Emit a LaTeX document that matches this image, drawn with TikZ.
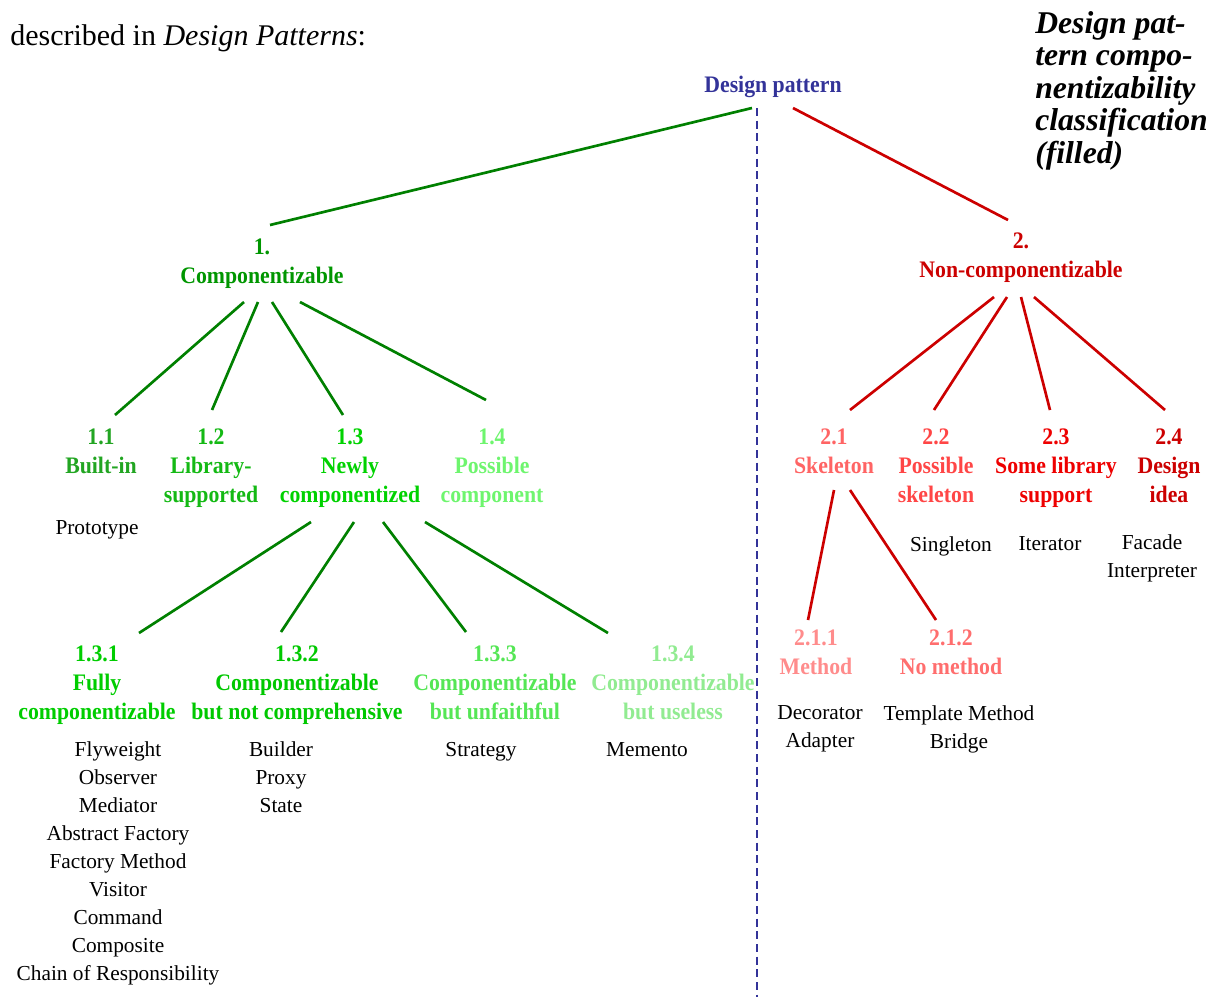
\documentclass[tikz,border=0pt]{standalone}
\usepackage{fontspec}
\setmainfont{Liberation Serif}
\newfontfamily\labfont{Liberation Serif}[FakeStretch=0.92]
\definecolor{glinec}{RGB}{0,128,0}
\definecolor{rlinec}{RGB}{204,0,0}
\definecolor{blueT}{RGB}{51,51,153}
\definecolor{cA}{RGB}{0,150,0}
\definecolor{cAa}{RGB}{34,165,34}
\definecolor{cAb}{RGB}{20,185,20}
\definecolor{cAc}{RGB}{0,210,0}
\definecolor{cAd}{RGB}{110,245,110}
\definecolor{cAca}{RGB}{0,205,0}
\definecolor{cAcb}{RGB}{0,200,0}
\definecolor{cAcc}{RGB}{85,230,85}
\definecolor{cAcd}{RGB}{145,235,145}
\definecolor{cB}{RGB}{204,0,0}
\definecolor{cBa}{RGB}{255,100,100}
\definecolor{cBb}{RGB}{255,70,70}
\definecolor{cBc}{RGB}{238,0,0}
\definecolor{cBd}{RGB}{204,0,0}
\definecolor{cBaa}{RGB}{255,140,140}
\definecolor{cBab}{RGB}{255,110,110}
\tikzset{
  lab/.style={anchor=north, inner sep=0pt, align=center, font=\labfont\bfseries\fontsize{17.75pt}{21.75pt}\selectfont},
  itm/.style={anchor=north, inner sep=0pt, align=center, font=\fontsize{16pt}{21pt}\selectfont},
  gl/.style={draw=glinec, line width=2pt},
  rl/.style={draw=rlinec, line width=2pt},
  divider/.style={draw=blueT, line width=1.5pt, dash pattern=on 6pt off 3.5pt}
}
\begin{document}
\begin{tikzpicture}[x=0.75pt,y=-0.75pt]
\useasboundingbox (0,0) rectangle (1218,997);
% intro text and title
\node[anchor=base west, inner sep=0pt, font=\fontsize{22.5pt}{27pt}\selectfont] (intro) at (10,45) {described in \textit{Design Patterns}:};
\node[anchor=north west, inner sep=0pt, align=left, font=\bfseries\itshape\fontsize{23.75pt}{24.4pt}\selectfont] (title) at (1035,11)
  {Design pat-\\tern compo-\\nentizability\\classification\\(filled)};
% tree nodes
\node[lab, text=blueT] (top) at (773,76) {Design pattern};
\node[lab, text=cA] (c1) at (262,239) {1.\\Componentizable};
\node[lab, text=cB] (c2) at (1021,233) {2.\\Non-componentizable};
\node[lab, text=cAa] (c11) at (101,429) {1.1\\Built-in};
\node[lab, text=cAb] (c12) at (211,429) {1.2\\Library-\\supported};
\node[lab, text=cAc] (c13) at (350,429) {1.3\\Newly\\componentized};
\node[lab, text=cAd] (c14) at (492,429) {1.4\\Possible\\component};
\node[lab, text=cBa] (c21) at (834,429) {2.1\\Skeleton};
\node[lab, text=cBb] (c22) at (936,429) {2.2\\Possible\\skeleton};
\node[lab, text=cBc] (c23) at (1056,429) {2.3\\Some library\\support};
\node[lab, text=cBd] (c24) at (1169,429) {2.4\\Design\\idea};
\node[lab, text=cAca] (c131) at (97,646) {1.3.1\\Fully\\componentizable};
\node[lab, text=cAcb] (c132) at (297,646) {1.3.2\\Componentizable\\but not comprehensive};
\node[lab, text=cAcc] (c133) at (495,646) {1.3.3\\Componentizable\\but unfaithful};
\node[lab, text=cAcd] (c134) at (673,646) {1.3.4\\Componentizable\\but useless};
\node[lab, text=cBaa] (c211) at (816,630) {2.1.1\\Method};
\node[lab, text=cBab] (c212) at (951,630) {2.1.2\\No method};
% pattern lists
\node[itm] (p11) at (97,520.5) {Prototype};
\node[itm] (p131) at (118,741.5) {Flyweight\\Observer\\Mediator\\Abstract Factory\\Factory Method\\Visitor\\Command\\Composite\\Chain of Responsibility};
\node[itm] (p132) at (281,741.5) {Builder\\Proxy\\State};
\node[itm] (p133) at (481,742.5) {Strategy};
\node[itm] (p134) at (647,742.5) {Memento};
\node[itm] (p22) at (951,536.5) {Singleton};
\node[itm] (p23) at (1050,536.5) {Iterator};
\node[itm] (p24) at (1152,534.5) {Facade\\Interpreter};
\node[itm] (p211) at (820,705.5) {Decorator\\Adapter};
\node[itm] (p212) at (959,705.5) {Template Method\\Bridge};
% divider
\coordinate (dashend) at (757,997);
\draw[divider] ([shift={(-16,32)}]top.north) -- (dashend);
% connectors
\draw[gl] ([shift={(-21,32)}]top.north) -- ([shift={(8,-14)}]c1.north);
\draw[rl] ([shift={(20,32)}]top.north) -- ([shift={(-13,-13)}]c2.north);
\draw[gl] ([shift={(-18,63)}]c1.north) -- ([shift={(14,-14)}]c11.north);
\draw[gl] ([shift={(-4,63)}]c1.north) -- ([shift={(1,-19)}]c12.north);
\draw[gl] ([shift={(10,63)}]c1.north) -- ([shift={(-7,-14)}]c13.north);
\draw[gl] ([shift={(38,63)}]c1.north) -- ([shift={(-6,-29)}]c14.north);
\draw[rl] ([shift={(-27,64)}]c2.north) -- ([shift={(16,-19)}]c21.north);
\draw[rl] ([shift={(-14,64)}]c2.north) -- ([shift={(-2,-19)}]c22.north);
\draw[rl] ([shift={(0,64)}]c2.north) -- ([shift={(-6,-19)}]c23.north);
\draw[rl] ([shift={(13,64)}]c2.north) -- ([shift={(-4,-19)}]c24.north);
\draw[gl] ([shift={(-39,93)}]c13.north) -- ([shift={(42,-13)}]c131.north);
\draw[gl] ([shift={(4,93)}]c13.north) -- ([shift={(-16,-14)}]c132.north);
\draw[gl] ([shift={(33,93)}]c13.north) -- ([shift={(-29,-14)}]c133.north);
\draw[gl] ([shift={(75,93)}]c13.north) -- ([shift={(-65,-13)}]c134.north);
\draw[rl] ([shift={(0,61)}]c21.north) -- ([shift={(-8,-10)}]c211.north);
\draw[rl] ([shift={(16,61)}]c21.north) -- ([shift={(-15,-10)}]c212.north);
\end{tikzpicture}
\end{document}
